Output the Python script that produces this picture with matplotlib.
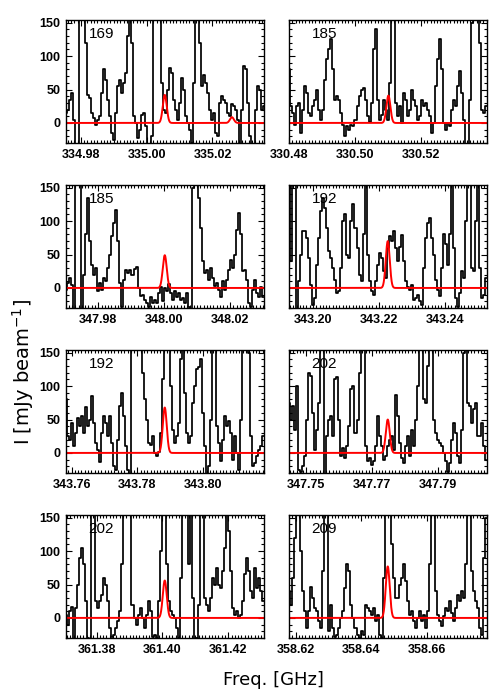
import numpy as np
import matplotlib
matplotlib.use("Agg")
import matplotlib.pyplot as plt
from matplotlib.ticker import MultipleLocator

# ---------------- data ----------------
panel_labels = ["169", "185", "185", "192", "192", "202", "202", "209"]

window_centers = [335.0055, 330.5100, 348.0002, 343.2227,
                  343.7883, 347.7747, 361.4007, 358.6480]
half_span = 0.030

xtick_values = [
    [334.98, 335.00, 335.02],
    [330.48, 330.50, 330.52],
    [347.98, 348.00, 348.02],
    [343.20, 343.22, 343.24],
    [343.76, 343.78, 343.80],
    [347.75, 347.77, 347.79],
    [361.38, 361.40, 361.42],
    [358.62, 358.64, 358.66],
]

# model components (center GHz, peak mJy/beam)
model_centers = [[335.0055, 335.0259], [330.5102], [348.0002], [343.2227],
                 [343.7883], [347.7747], [361.4007], [358.6480]]
model_peaks = [[42, 8.6], [41], [49], [70], [68], [50], [56], [77]]
model_sigma = 0.0006

spec1 = [15, 20, 35, 45, 5, -45, -40, 300, 400, 250, 120, 42, 38, 15, 8, -3, 5, 10, 45, 80,
         65, 35, 10, -15, -25, 15, 55, 65, 45, 60, 75, 130, 300, 120, 10, 0, -22, -10, 12, 15,
         -5, -45, -40, -20, 250, 400, 350, 200, 60, 20, 15, 50, 82, 75, 35, 20, 5, 30, 68, 50,
         10, 0, -10, -30, 60, 250, 350, 120, 55, 72, 60, 45, 20, 5, 15, -15, -20, 30, 40, 35,
         30, 15, 10, 28, 25, 20, 5, -35, 20, 85, 80, 30, -20, -40, -40, 20, 55, 50, 20, 25]

spec2 = [80, 25, 15, -3, 25, 30, -15, 20, 55, 45, 15, 10, 25, 35, 50, 20, 5, 20, 65, 95,
         110, 125, 80, 35, 40, 35, 15, -3, -20, -5, -10, -3, -5, 5, 25, 40, 50, 52, 35, 10,
         2, 30, 110, 140, 35, 5, 12, 35, 20, 5, 60, 300, 250, 30, 10, 25, 0, 45, 35, 10,
         20, 50, 35, 25, 5, 10, 35, 25, 30, 20, 10, -15, 0, 55, 95, 125, 80, 0, -10, 0,
         -5, 20, 35, 25, 55, 78, 45, 5, -40, -35, 35, 150, 350, 400, 300, 120, 20, 15, 25]

spec3 = [-3, 8, 15, 5, -35, 200, 350, 250, -40, 20, 80, 135, 70, 35, 20, 30, -5, 8, -3, 15,
         10, 30, 50, 77, 97, 117, 70, 8, -28, 12, 27, 22, 27, 20, 29, 32, 0, -12, -10, -18,
         -23, -28, -14, -22, -18, -23, -8, 2, -20, 0, -4, 6, -8, -18, -4, -14, -8, -18, -15, -22,
         -8, -28, -32, 150, 350, 300, 135, 90, 40, 22, 27, 12, 30, 15, 3, 8, -3, -13, 10, -3,
         12, 27, 42, 30, 50, 87, 112, 80, 25, 27, 12, -22, -28, -3, 12, -8, -13, 2, -13]

spec4 = [150, 40, 300, 200, -35, 10, 50, 85, 85, 75, 45, 5, -25, -15, 35, 75, 115, 134, 120, 90,
         55, 45, 30, 12, -8, -5, 30, 100, 110, 50, 45, 100, 125, 90, 60, 20, 10, 80, 300, 50,
         10, -5, -10, 10, 35, 52, 45, 25, 15, 60, 77, 70, 85, 60, 40, 62, 79, 40, 10, 2,
         -3, 5, -18, -15, -10, -20, -25, 30, 75, 97, 105, 75, 50, 12, -3, -12, 30, 80, 65, 35,
         80, 200, 60, -15, -28, -8, 25, 15, 100, 300, 300, 30, 25, 100, 250, 30, -15, -10, 15]

spec5 = [80, 25, 20, 45, 10, 30, 52, 40, 55, 30, 68, 40, 50, 85, 45, 15, 5, -14, 30, 55,
         45, 25, 55, 15, -20, -25, 20, 70, 90, 55, 10, -25, -40, 300, 300, 350, 250, 180, 120, 80,
         50, 15, 12, 25, 0, -5, 2, 30, 110, 200, 300, 250, 100, 35, 15, 25, 45, 140, 300, 90,
         30, 15, 25, 75, 100, 126, 128, 141, 60, 10, -40, -20, 50, 250, 200, 40, 15, -12, 20, 55,
         40, 48, 30, -10, 25, 0, -25, 50, 200, 350, 300, 150, 25, -20, -15, -5, 5, 10, 25]

spec6 = [75, 50, 70, 35, 100, -25, -28, -20, -5, 50, 120, 115, 60, 5, 35, 75, 200, 300, -40, 25,
         50, 55, 25, 110, 113, 50, -5, 8, -8, 10, 40, 95, 100, 30, 50, 120, 300, 250, 10, -12,
         -8, -18, -12, 10, 56, 25, 10, -10, -5, 10, 20, 25, 5, 86, 55, 15, -8, -15, 10, 25,
         -5, 35, 10, 50, 100, 300, 250, 80, 75, 130, 300, 200, 50, 30, 20, 15, 10, 0, -12, -28,
         -15, 20, 45, 30, -4, -15, 35, 150, 300, 75, 70, 45, 65, 75, 25, 25, 45, 10, -10]

spec7 = [5, -10, 10, 17, -35, 15, 50, 90, 105, 80, 25, -30, -35, 200, 300, 25, 15, 25, 35, 60,
         50, 25, -15, -28, -25, -15, -5, 10, 80, 250, 350, 300, 200, 20, 0, -10, 5, 15, 0, -15,
         5, 25, 10, -28, -25, -30, 25, 100, 300, 350, 80, 25, 10, 5, 0, -15, -30, 60, 300, 350,
         300, 80, 250, 30, -40, -30, 20, 200, 300, 30, 20, 10, 30, 60, 50, 75, 50, 45, 70, 105,
         200, 130, 70, 15, 5, 10, 0, 5, 25, 65, 90, 70, 40, 30, 75, 45, 60, 40, 25]

spec8 = [40, 20, 60, 120, 300, 250, 100, 40, 10, -15, 10, 46, 30, 15, 10, -5, -15, 70, 250, 300,
         -20, 20, -15, -28, -25, -15, 0, 10, 45, 80, 70, 20, 0, -15, -25, -30, -20, -25, 20, 15,
         10, 5, 15, -5, 5, -25, -30, 60, 250, 300, 200, 110, 60, 30, 30, 50, 60, 80, 55, 25,
         5, 10, -5, -15, 0, 10, -5, 5, -15, 10, 80, 300, 250, 40, 5, -5, -12, 3, 15, 10,
         25, 8, -5, 15, 35, 25, 40, 30, 80, 300, 250, 70, 40, 25, 15, -15, -25, 90, 150]

spectra = [spec1, spec2, spec3, spec4, spec5, spec6, spec7, spec8]

ytick_values = [0, 50, 100, 150]
y_limits = (-30, 154)

# ---------------- figure ----------------
fig = plt.figure(figsize=(5, 7), dpi=100)

col_left = [0.132, 0.578]
ax_w = 0.395
row_bottom = [0.7957, 0.5600, 0.3243, 0.0886]
ax_h = 0.1757

tick_font = dict(family=["Liberation Sans", "DejaVu Sans"], weight="bold", size=9)

for k in range(8):
    r, c = divmod(k, 2)
    ax = fig.add_axes([col_left[c], row_bottom[r], ax_w, ax_h])
    lo = window_centers[k] - half_span
    hi = window_centers[k] + half_span
    vals = np.array(spectra[k], dtype=float)
    freq = np.linspace(lo, hi, len(vals))
    ax.plot(freq, vals, drawstyle="steps-mid", color="black", lw=1.25)

    fgrid = np.linspace(lo, hi, 1500)
    model = np.zeros_like(fgrid)
    for cen, pk in zip(model_centers[k], model_peaks[k]):
        model += pk * np.exp(-0.5 * ((fgrid - cen) / model_sigma) ** 2)
    ax.plot(fgrid, model, color="#ff0000", lw=1.4)

    ax.set_xlim(lo, hi)
    ax.set_ylim(*y_limits)
    ax.set_xticks(xtick_values[k])
    ax.set_xticklabels([f"{v:.2f}" for v in xtick_values[k]], fontdict=tick_font)
    ax.xaxis.set_minor_locator(MultipleLocator(0.001))
    ax.set_yticks(ytick_values)
    ax.yaxis.set_minor_locator(MultipleLocator(10))
    if c == 0:
        ax.set_yticklabels([str(v) for v in ytick_values], fontdict=tick_font)
    else:
        ax.set_yticklabels([])
    ax.tick_params(which="both", direction="in", top=True, right=True, width=0.8)
    ax.tick_params(which="major", length=4.5, pad=4)
    ax.tick_params(which="minor", length=2)
    for sp in ax.spines.values():
        sp.set_linewidth(1.0)
    ax.text(0.115, 0.855, panel_labels[k], transform=ax.transAxes,
            fontsize=11, family=["Liberation Sans", "DejaVu Sans"],
            ha="left", va="baseline", color="black")

fig.text(0.546, 0.028, "Freq. [GHz]", ha="center", va="center",
         fontsize=13, family="DejaVu Sans")
fig.text(0.046, 0.469, r"I [mJy beam$^{-1}$]", ha="center", va="center",
         rotation=90, fontsize=14, family="DejaVu Sans")

fig.savefig("out.png", dpi=100, facecolor="white")
